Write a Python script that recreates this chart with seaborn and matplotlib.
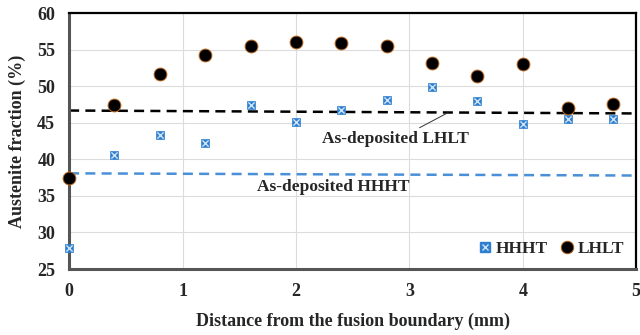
import matplotlib
matplotlib.use("Agg")
import matplotlib.pyplot as plt
from matplotlib.lines import Line2D
import seaborn as sns
import pandas as pd

distance = [0, 0.4, 0.8, 1.2, 1.6, 2.0, 2.4, 2.8, 3.2, 3.6, 4.0, 4.4, 4.8]
hhht = [27.9, 40.6, 43.3, 42.3, 47.4, 45.1, 46.8, 48.2, 49.9, 48.0, 44.9, 45.6, 45.6]
lhlt = [37.4, 47.4, 51.7, 54.3, 55.5, 56.1, 55.9, 55.5, 53.2, 51.4, 53.1, 47.1, 47.6]
ref_x = [0, 5]
ref_lhlt = [46.7, 46.3]
ref_hhht = [38.1, 37.8]
x_ticks = [0, 1, 2, 3, 4, 5]
y_ticks = [25, 30, 35, 40, 45, 50, 55, 60]

sns.set_theme(style="whitegrid")
plt.rcParams['font.family'] = ['Liberation Serif', 'DejaVu Serif']
plt.rcParams['font.weight'] = 'bold'

df = pd.DataFrame({"d": distance, "HHHT": hhht, "LHLT": lhlt})
ref = pd.DataFrame({"x": ref_x, "l": ref_lhlt, "h": ref_hhht})

fig = plt.figure(figsize=(6.4, 3.35), dpi=100)
ax = fig.add_axes([0.108, 0.197, 0.886, 0.763])

sns.lineplot(data=ref, x="x", y="l", ax=ax, color="black", lw=1.8,
             linestyle=(0, (4, 2.5)), legend=False)
sns.lineplot(data=ref, x="x", y="h", ax=ax, color="#4a90d9", lw=1.8,
             linestyle=(0, (4, 2.5)), legend=False)

sns.scatterplot(data=df, x="d", y="HHHT", ax=ax, marker="s", s=38,
                color="#2f7fd0", edgecolor="#2f7fd0", linewidth=0.5,
                legend=False, zorder=5, clip_on=False)
ax.scatter(distance, hhht, marker="x", s=20, color="#cfe3f7", linewidths=1.0,
           zorder=6, clip_on=False)
sns.scatterplot(data=df, x="d", y="LHLT", ax=ax, marker="o", s=85,
                color="black", edgecolor="#b5651d", linewidth=0.7,
                legend=False, zorder=5, clip_on=False)

ax.set_xlim(0, 5)
ax.set_ylim(25, 60)
ax.set_xticks(x_ticks)
ax.set_yticks(y_ticks)
ax.tick_params(axis="both", labelsize=13, length=0)
ax.tick_params(axis="x", pad=10)
ax.tick_params(axis="y", pad=10)
for lab in ax.get_xticklabels() + ax.get_yticklabels():
    lab.set_fontweight("bold")
ax.set_xlabel("Distance from the fusion boundary (mm)", fontsize=13,
              fontweight="bold", labelpad=9)
ax.set_ylabel("Austenite fraction (%)", fontsize=13, fontweight="bold",
              labelpad=8)
ax.grid(True, color="#dcdcdc", lw=0.8)
for side in ["top", "right"]:
    ax.spines[side].set_color("black")
    ax.spines[side].set_linewidth(1.6)
for side in ["left", "bottom"]:
    ax.spines[side].set_color("#555555")
    ax.spines[side].set_linewidth(2.2)

ax.annotate("As-deposited LHLT", xy=(3.34, 46.4), xytext=(2.88, 42.8),
            fontsize=12.5, fontweight="bold", ha="center", va="center",
            arrowprops=dict(arrowstyle="-", color="#333333", lw=0.7,
                            shrinkA=0, shrinkB=0, relpos=(0.62, 1.0)))
ax.text(2.33, 36.2, "As-deposited HHHT", fontsize=12.5, fontweight="bold",
        ha="center", va="center")

h_sq = Line2D([], [], ls="none", marker="s", ms=6.5, color="#2f7fd0")
h_x = Line2D([], [], ls="none", marker="x", ms=4.5, color="#cfe3f7", mew=1.0)
h_c = Line2D([], [], ls="none", marker="o", ms=9, color="black",
             markeredgecolor="#b5651d", mew=0.7)
leg = ax.legend([(h_sq, h_x), h_c], ["HHHT", "LHLT"], loc="lower right",
                ncol=2, frameon=False, fontsize=12.5, handletextpad=0.1,
                columnspacing=0.6, borderaxespad=0.3, handlelength=1.0)
for t in leg.get_texts():
    t.set_fontweight("bold")

fig.savefig("out.png", dpi=100)
